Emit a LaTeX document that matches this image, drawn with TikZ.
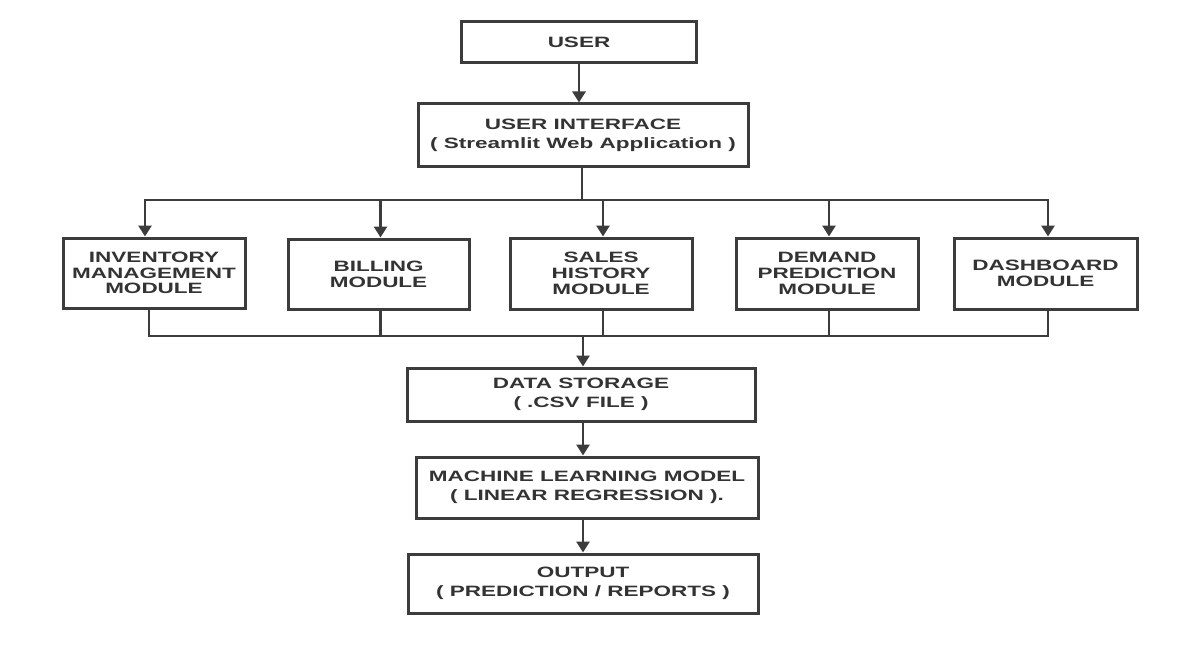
\documentclass[tikz,border=0pt]{standalone}
\usepackage{fontspec}
\newfontfamily\boxfont[FakeStretch=1.5]{Liberation Sans}
\usetikzlibrary{arrows.meta,calc}
\definecolor{ink}{HTML}{333333}
\definecolor{linec}{HTML}{3C3C3C}
\begin{document}
\begin{tikzpicture}[x=1pt,y=-1pt,
  box/.style={draw=linec,line width=3pt,fill=white,inner sep=0pt,align=center,
    text=ink,font=\boxfont\bfseries\fontsize{15}{18.5}\selectfont},
  modbox/.style={box,font=\boxfont\bfseries\fontsize{15}{15.8}\selectfont},
  conn/.style={draw=linec,line width=2.8pt},
  arr/.style={conn,-{Triangle[length=11pt,width=13pt]}}]
\useasboundingbox[fill=white] (0,0) rectangle (1201,655);
% main column
\node[box,minimum width=235pt,minimum height=41pt] (user) at (579,42.5) {USER};
\node[box,minimum width=330pt,minimum height=63pt] (ui) at (583,135.5) {USER INTERFACE\\( Streamlit Web Application )};
% modules
\node[modbox,minimum width=182pt,minimum height=70pt] (inv) at (154,273) {INVENTORY\\MANAGEMENT\\MODULE};
\node[modbox,minimum width=181pt,minimum height=70pt] (bill) at (378.5,274) {BILLING\\MODULE};
\node[modbox,minimum width=182pt,minimum height=71pt] (sales) at (601,273.5) {SALES\\HISTORY\\MODULE};
\node[modbox,minimum width=182pt,minimum height=71pt] (dem) at (827,273.5) {DEMAND\\PREDICTION\\MODULE};
\node[modbox,minimum width=183pt,minimum height=71pt] (dash) at (1045.5,273.5) {DASHBOARD\\MODULE};
% lower column
\node[box,minimum width=348pt,minimum height=53pt] (data) at (581,394.5) {DATA STORAGE\\( .CSV FILE )};
\node[box,minimum width=342pt,minimum height=61pt] (ml) at (587,487.5) {MACHINE LEARNING MODEL\\( LINEAR REGRESSION ).};
\node[box,minimum width=350pt,minimum height=59pt] (out) at (583,583.5) {OUTPUT\\( PREDICTION / REPORTS )};
% bus coordinates
\coordinate (busT) at (582,200);
\coordinate (busB) at (583,336);
% connectors
\draw[arr] (user.south) -- (user.south |- ui.north);
\draw[conn] (ui.south -| busT) -- (busT);
\draw[arr] (busT) -| ([xshift=-9pt]inv.north);
\draw[arr] (busT) -| ([xshift=2pt]bill.north);
\draw[arr] (busT) -| ([xshift=2pt]sales.north);
\draw[arr] (busT) -| ([xshift=2pt]dem.north);
\draw[arr] (busT) -| ([xshift=2.5pt]dash.north);
\draw[conn] ([xshift=-5pt]inv.south) |- (busB);
\draw[conn] ([xshift=2pt]bill.south) |- (busB);
\draw[conn] ([xshift=2pt]sales.south) |- (busB);
\draw[conn] ([xshift=2pt]dem.south) |- (busB);
\draw[conn] ([xshift=2.5pt]dash.south) |- (busB);
\draw[arr] (busB) -- (busB |- data.north);
\draw[arr] (data.south -| busB) -- (busB |- ml.north);
\draw[arr] (ml.south -| busB) -- (busB |- out.north);
\end{tikzpicture}
\end{document}
